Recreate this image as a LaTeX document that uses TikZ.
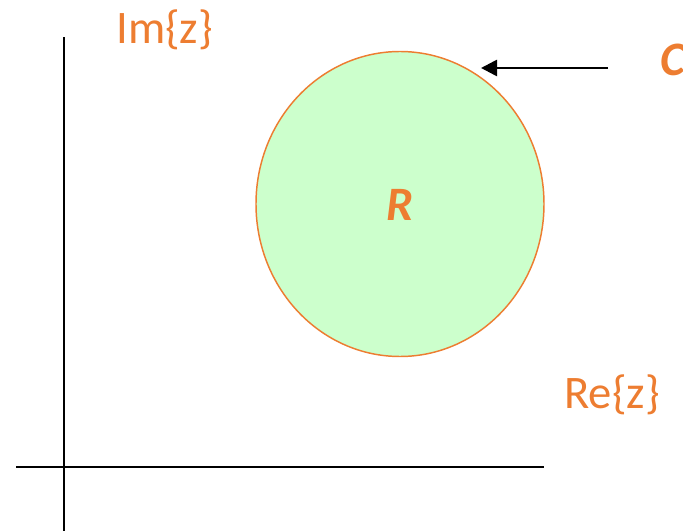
\documentclass[tikz,border=0pt]{standalone}
\usepackage{fontspec}
\setmainfont{Carlito}
\usetikzlibrary{arrows.meta,shapes.geometric}
\definecolor{accent}{HTML}{ED7D31}
\definecolor{regionfill}{HTML}{CCFFCC}
\begin{document}
\begin{tikzpicture}[x=0.75pt,y=-0.75pt,
  axis/.style={line width=1.5pt,black},
  lbl/.style={text=accent,font=\fontsize{35}{40}\selectfont,inner sep=0pt,anchor=base west},
  mathlbl/.style={text=accent,font=\fontsize{36}{41}\selectfont\bfseries\itshape,inner sep=0pt}]
  \useasboundingbox (0,0) rectangle (683,531);
  % axes
  \coordinate (ytop) at (64,37);
  \coordinate (ybot) at (64,531);
  \coordinate (xl) at (16,467);
  \coordinate (xr) at (544,467);
  \draw[axis] (ybot) -- (ytop);
  \draw[axis] (xl) -- (xr);
  % region R
  \node[ellipse,draw=accent,fill=regionfill,line width=1.1pt,
        minimum width=288*0.75pt,minimum height=305*0.75pt,inner sep=0pt] (reg) at (400,204) {};
  \node[mathlbl,anchor=base] (rlab) at (400,221) {R};
  % contour label and pointer
  \node[mathlbl,anchor=base west] (clab) at (660,76) {C};
  \coordinate (cstart) at (608,68);
  \coordinate (ctip) at (481,68);
  \draw[line width=2pt,-{Triangle[length=12pt,width=12pt]}] (cstart) -- (ctip);
  % axis labels
  \node[lbl] (imlab) at (116,44) {Im\{z\}};
  \node[lbl] (relab) at (564,409) {Re\{z\}};
\end{tikzpicture}
\end{document}
